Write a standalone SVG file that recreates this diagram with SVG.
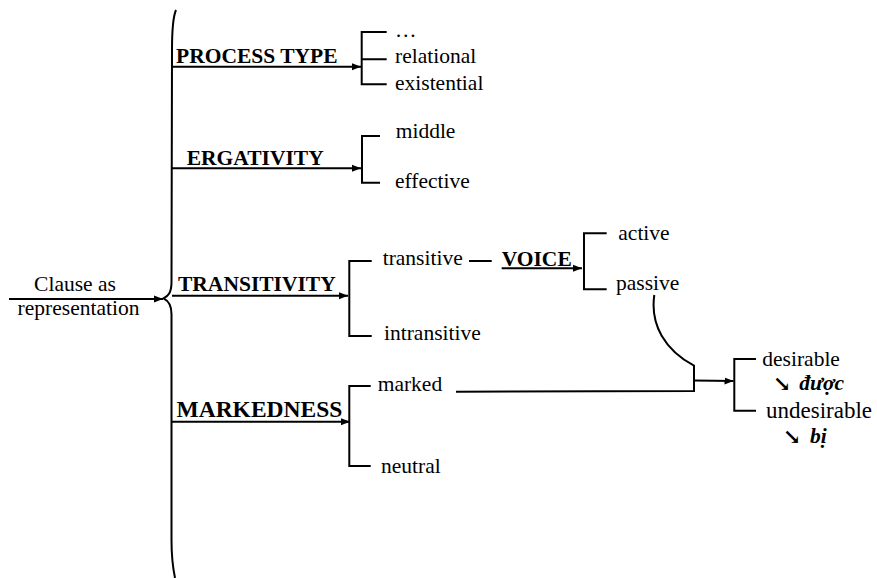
<svg xmlns="http://www.w3.org/2000/svg" width="877" height="578" viewBox="0 0 877 578">
<style>
.ln{stroke:#000;stroke-width:2;fill:none}
text{font-family:'Liberation Serif','Times New Roman','DejaVu Serif',serif;font-size:21.5px;fill:#000}
.b{font-weight:bold}
.bi{font-weight:bold;font-style:italic}
</style>
<defs>
<marker id="ah" markerUnits="userSpaceOnUse" markerWidth="10" markerHeight="10" viewBox="0 0 10 10" refX="9" refY="5" orient="auto">
<path d="M0,1.5 L9,5 L0,8.5 Z" fill="#000"/>
</marker>
</defs>
<rect width="877" height="578" fill="#fff"/>
<g id="connectors">
<path class="ln" d="M176,10 C172.5,18 172,30 172,50 L171.5,282 C171.5,293 168,296 163.5,298.3 C168,300.5 171.5,304 171.5,314 L171.5,540 C171.5,556 172.5,566 175,578"/>
<line class="ln" x1="9" y1="299" x2="163" y2="299" marker-end="url(#ah)"/>
<line class="ln" x1="172" y1="66.7" x2="361" y2="66.7" marker-end="url(#ah)"/>
<line class="ln" x1="172" y1="168.3" x2="361" y2="168.3" marker-end="url(#ah)"/>
<line class="ln" x1="172" y1="295.7" x2="348" y2="295.7" marker-end="url(#ah)"/>
<line class="ln" x1="172" y1="421.7" x2="350" y2="421.7" marker-end="url(#ah)"/>
<line class="ln" x1="469" y1="261" x2="491.7" y2="261"/>
<line class="ln" x1="501.7" y1="268.3" x2="582" y2="268.3" marker-end="url(#ah)"/>
<path class="ln" d="M654.3,295 C650,325 665,350 694,365.7 L694,391 L456,391.7"/>
<line class="ln" x1="694" y1="380.5" x2="733.5" y2="381" marker-end="url(#ah)"/>
</g>
<g id="bracket-process">
<path class="ln" d="M386.7,32 H361.7 V84.3 H386.7 M361.7,59.3 H386.7"/>
</g>
<g id="bracket-ergativity">
<path class="ln" d="M380,136 H362 V182.7 H380"/>
</g>
<g id="bracket-transitivity">
<path class="ln" d="M371.7,261 H349.3 V336 H371.7"/>
</g>
<g id="bracket-markedness">
<path class="ln" d="M370.7,386 H349.3 V466 H370.7"/>
</g>
<g id="bracket-voice">
<path class="ln" d="M606.7,233.3 H584 V289.3 H606.7"/>
</g>
<g id="bracket-passive">
<path class="ln" d="M756,359 H734.3 V410.7 H756"/>
</g>
<g id="node-clause">
<text x="75" y="290.7" text-anchor="middle">Clause as</text>
<text x="78.5" y="314.5" text-anchor="middle">representation</text>
</g>
<g id="node-process-type"><text class="b" x="176" y="63.3">PROCESS TYPE</text></g>
<g id="node-ergativity"><text class="b" x="186.7" y="165">ERGATIVITY</text></g>
<g id="node-transitivity"><text class="b" x="178" y="290.7">TRANSITIVITY</text></g>
<g id="node-markedness"><text class="b" x="176.5" y="416.7" style="font-size:23.5px">MARKEDNESS</text></g>
<g id="node-ellipsis"><text x="395" y="36.7">…</text></g>
<g id="node-relational"><text x="395" y="63.3">relational</text></g>
<g id="node-existential"><text x="395" y="90">existential</text></g>
<g id="node-middle"><text x="395.7" y="138.3">middle</text></g>
<g id="node-effective"><text x="395" y="188.3">effective</text></g>
<g id="node-transitive"><text x="382.7" y="265">transitive</text></g>
<g id="node-intransitive"><text x="384" y="340">intransitive</text></g>
<g id="node-voice"><text class="b" x="501.7" y="265.7">VOICE</text></g>
<g id="node-active"><text x="618.3" y="240">active</text></g>
<g id="node-passive"><text x="616" y="290">passive</text></g>
<g id="node-marked"><text x="377.7" y="391">marked</text></g>
<g id="node-neutral"><text x="381" y="473.3">neutral</text></g>
<g id="node-desirable">
<text x="762.3" y="365.7">desirable</text>
<text class="b" x="773" y="391">↘</text>
<text class="bi" x="799.3" y="390">được</text>
</g>
<g id="node-undesirable">
<text x="766" y="418.3" style="font-size:23px">undesirable</text>
<text class="b" x="783" y="444">↘</text>
<text class="bi" x="810" y="443.3">bị</text>
</g>
</svg>
